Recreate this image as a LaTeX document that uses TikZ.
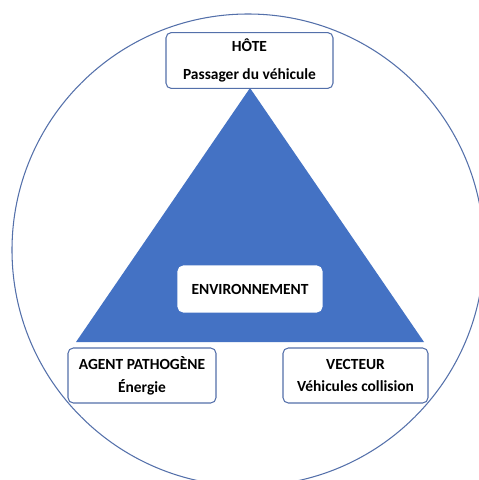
\documentclass[tikz,border=0pt]{standalone}
\usepackage{fontspec}
\setmainfont{Carlito}
\usetikzlibrary{positioning,calc}
\definecolor{triblue}{RGB}{68,114,196}
\definecolor{edgeblue}{RGB}{84,112,170}

\begin{document}
\begin{tikzpicture}[x=0.02cm, y=-0.02cm,
    box/.style={rectangle, draw=edgeblue, fill=white, rounded corners=3pt, line width=0.6pt, align=center, font=\fontsize{8.8}{13}\selectfont\bfseries},
    topbox/.style={box, minimum width=3.34cm, minimum height=1.1cm, font=\fontsize{8.8}{16.4}\selectfont\bfseries},
    basebox/.style={box, minimum width=2.94cm, minimum height=1.1cm},
    envbox/.style={box, draw=white, minimum width=2.88cm, minimum height=0.92cm}
]
\clip (0,0) rectangle (479,480);
\fill[white] (0,0) rectangle (479,480);

% outer circle (cut by the frame on the right and at the bottom)
\draw[edgeblue, line width=0.6pt] (248,250) circle[radius=236];

% corners of the triangle
\coordinate (apex) at (250,88);
\coordinate (base_left) at (76,342);
\coordinate (base_right) at (424,342);
\fill[triblue] (apex) -- (base_left) -- (base_right) -- cycle;

% HOST box on top
\node[topbox] (hote) at (249.5,60.5) {HÔTE\\Passager du véhicule};

% ENVIRONMENT in the middle of the triangle
\node[envbox] (env) at (250,289) {ENVIRONNEMENT};

% AGENT and VECTOR boxes at the base corners
\node[basebox, minimum width=2.96cm] (agent) at (142,375.5) {AGENT PATHOGÈNE\\Énergie};
\node[basebox, minimum width=2.9cm] (vecteur) at (355.5,375.5) {VECTEUR\\Véhicules collision};

\end{tikzpicture}
\end{document}
